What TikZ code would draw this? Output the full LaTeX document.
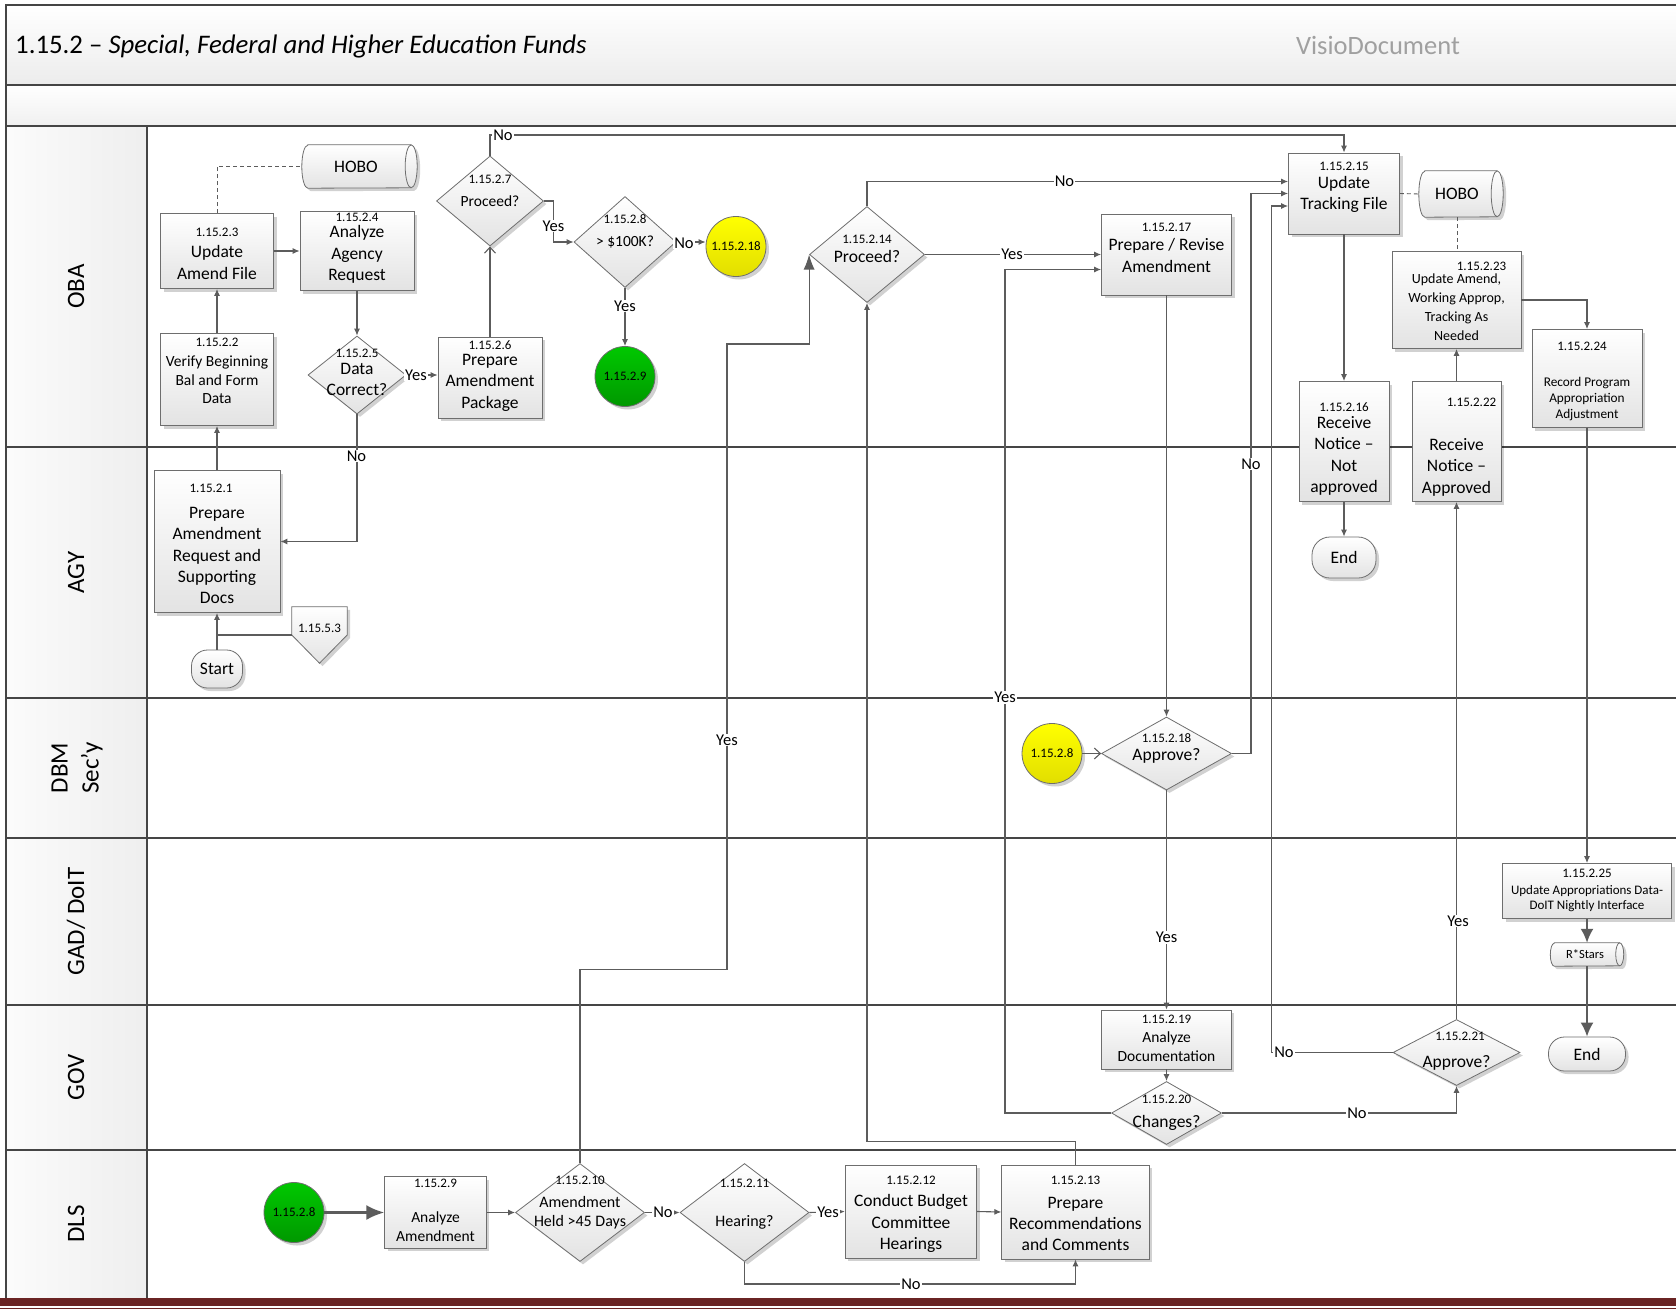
\documentclass[tikz,border=0pt]{standalone}
\usepackage{fontspec}
\setmainfont{Carlito}
\usetikzlibrary{shapes.geometric,shadows,arrows.meta,calc}
\definecolor{lanecol}{HTML}{454545}
\definecolor{edgecol}{HTML}{5C5C5C}
\definecolor{boxline}{HTML}{6E6E6E}
\definecolor{barcol}{HTML}{6A2424}
\definecolor{ytop}{HTML}{FFFF00}
\definecolor{ybot}{HTML}{E2DE00}
\definecolor{gtop}{HTML}{00C800}
\definecolor{gbot}{HTML}{009800}
\definecolor{titlegray}{HTML}{A0A0A0}
\tikzset{
  laneline/.style={draw=lanecol, line width=2pt},
  shp/.style={draw=boxline, line width=0.8pt, top color=white, bottom color=gray!22,
     drop shadow={shadow xshift=3pt, shadow yshift=-3pt, opacity=0.18, fill=black}},
  box/.style={shp, rectangle, inner sep=0pt},
  dia/.style={shp, diamond, inner sep=0pt},
  term/.style={shp, rectangle, inner sep=0pt, font=\fontsize{17.5}{21}\selectfont},
  ycirc/.style={shp, circle, minimum size=60pt, inner sep=0pt, top color=ytop, bottom color=ybot, font=\fontsize{13}{15}\selectfont},
  gcirc/.style={shp, circle, minimum size=60pt, inner sep=0pt, top color=gtop, bottom color=gbot, font=\fontsize{13}{15}\selectfont},
  ghost/.style={rectangle, inner sep=0pt},
  cylline/.style={draw=boxline, line width=0.8pt},
  tx/.style={align=center, inner sep=0pt},
  tmain/.style={tx, font=\fontsize{17.5}{21.4}\selectfont},
  tmid/.style={tx, font=\fontsize{16}{19.3}\selectfont},
  tmed/.style={tx, font=\fontsize{15.5}{18.4}\selectfont},
  tsm/.style={tx, font=\fontsize{13.3}{16}\selectfont},
  tnum/.style={tx, font=\fontsize{13}{15}\selectfont},
  tlane/.style={tx, rotate=90, font=\fontsize{25}{31}\selectfont},
  lbl/.style={fill=white, inner sep=1pt, font=\fontsize{16.5}{18}\selectfont},
  conn/.style={draw=edgecol, line width=1.1pt, -{Latex[length=7pt,width=6pt]}},
  barbconn/.style={draw=edgecol, line width=1.1pt, -{Straight Barb[length=6pt,width=11pt]}},
  bigconn/.style={draw=edgecol, line width=1.1pt, -{Latex[length=15pt,width=11pt]}},
  fatconn/.style={draw=edgecol, line width=2.6pt, -{Latex[length=18pt,width=15pt]}},
  midconn/.style={draw=edgecol, line width=2pt, -{Latex[length=14pt,width=13pt]}},
  plainline/.style={draw=edgecol, line width=1.1pt},
  dashline/.style={draw=edgecol, line width=0.9pt, dash pattern=on 4pt off 3pt},
}
\begin{document}
\begin{tikzpicture}[x=1pt,y=-1pt]
\useasboundingbox (0,0) rectangle (1676,1309);
\fill[white] (0,0) rectangle (1676,1309);
% ---------- pool frame ----------
\shade[top color=white,bottom color=gray!15] (6,5) rectangle (1676,85);
\shade[top color=white,bottom color=gray!12] (6,85) rectangle (1676,126);
\shade[left color=gray!3,right color=gray!13] (6,126) rectangle (147,1298);
\draw[laneline] (1676,5) -- (6,5) -- (6,1298);
\draw[laneline] (6,85) -- (1676,85);
\foreach \yy in {126,447,698,838,1005,1150} {\draw[laneline] (6,\yy) -- (1676,\yy);}
\draw[laneline] (147,126) -- (147,1298);
\fill[barcol] (0,1298) rectangle (1676,1305.5);
\draw[barcol,line width=1pt] (0,1308) -- (1676,1308);

\node[anchor=west, inner sep=0pt, font=\fontsize{26.8}{30}\selectfont] (title) at (15,46) {1.15.2 \textendash{} \textit{Special, Federal and Higher Education Funds}};
\node[inner sep=0pt, text=titlegray, font=\fontsize{26.5}{30}\selectfont] (visio) at (1378,45.5) {VisioDocument};

\node[tlane] (laneOBA) at (76,286.5) {OBA};
\node[tlane] (laneAGY) at (76,572.5) {AGY};
\node[tlane] (laneDBM) at (77,768) {DBM\\Sec’y};
\node[tlane] (laneGAD) at (76,921.5) {GAD/ DoIT};
\node[tlane] (laneGOV) at (76,1077.5) {GOV};
\node[tlane] (laneDLS) at (76,1224) {DLS};

% ---------- shapes ----------
% cylinders
\node[ghost, minimum width=115pt, minimum height=43pt] (hobo1) at (359.5,166.5) {};
\path[shp] ([xshift=6pt]hobo1.north west) -- ([xshift=-6pt]hobo1.north east)
  arc[start angle=90,end angle=-90,x radius=6pt,y radius=21.5pt]
  -- ([xshift=6pt]hobo1.south west)
  arc[start angle=270,end angle=90,x radius=6pt,y radius=21.5pt] -- cycle;
\draw[cylline] ([xshift=-6pt]hobo1.north east) arc[start angle=90,end angle=270,x radius=6pt,y radius=21.5pt];

\node[ghost, minimum width=84pt, minimum height=46pt] (hobo2) at (1461,194) {};
\path[shp] ([xshift=6pt]hobo2.north west) -- ([xshift=-6pt]hobo2.north east)
  arc[start angle=90,end angle=-90,x radius=6pt,y radius=23pt]
  -- ([xshift=6pt]hobo2.south west)
  arc[start angle=270,end angle=90,x radius=6pt,y radius=23pt] -- cycle;
\draw[cylline] ([xshift=-6pt]hobo2.north east) arc[start angle=90,end angle=270,x radius=6pt,y radius=23pt];

\node[ghost, minimum width=73pt, minimum height=23pt] (rstars) at (1587,954.5) {};
\path[shp] ([xshift=4pt]rstars.north west) -- ([xshift=-4pt]rstars.north east)
  arc[start angle=90,end angle=-90,x radius=4pt,y radius=11.5pt]
  -- ([xshift=4pt]rstars.south west)
  arc[start angle=270,end angle=90,x radius=4pt,y radius=11.5pt] -- cycle;
\draw[cylline] ([xshift=-4pt]rstars.north east) arc[start angle=90,end angle=270,x radius=4pt,y radius=11.5pt];

% off-page connector
\node[ghost, minimum width=55pt, minimum height=56pt] (off) at (319.5,635) {};
\path[shp] (off.north west) -- (off.north east) -- (off.east) -- (off.south) -- (off.west) -- cycle;

% boxes
\node[box, minimum width=126pt, minimum height=142pt] (b1) at (217,541.5) {};
\node[box, minimum width=113pt, minimum height=92pt] (b2) at (217,379.5) {};
\node[box, minimum width=113pt, minimum height=75pt] (b3) at (217,251) {};
\node[box, minimum width=114pt, minimum height=79pt] (b4) at (357,251) {};
\node[box, minimum width=104pt, minimum height=81pt] (b6) at (490,377.5) {};
\node[box, minimum width=101.5pt, minimum height=71.5pt] (b9) at (435.5,1212.5) {};
\node[box, minimum width=131.5pt, minimum height=93pt] (b12) at (911,1211.5) {};
\node[box, minimum width=147.5pt, minimum height=94pt] (b13) at (1075.5,1212) {};
\node[box, minimum width=111pt, minimum height=81pt] (b15) at (1344,193.5) {};
\node[box, minimum width=90pt, minimum height=120pt] (b16) at (1344,441.5) {};
\node[box, minimum width=130pt, minimum height=81pt] (b17) at (1166.5,254.5) {};
\node[box, minimum width=129.5pt, minimum height=59pt] (b19) at (1166.5,1039.5) {};
\node[box, minimum width=89pt, minimum height=120pt] (b22) at (1456.5,441.5) {};
\node[box, minimum width=129pt, minimum height=97pt] (b23) at (1456.5,300) {};
\node[box, minimum width=110pt, minimum height=98pt] (b24) at (1587,378.5) {};
\node[box, minimum width=169pt, minimum height=55pt] (b25) at (1587,891) {};

% diamonds
\node[dia, minimum width=98pt, minimum height=78pt] (d5) at (357,375) {};
\node[dia, minimum width=107pt, minimum height=90pt] (d7) at (490,201) {};
\node[dia, minimum width=102pt, minimum height=91pt] (d8) at (625,242) {};
\node[dia, minimum width=129pt, minimum height=98pt] (d10) at (580,1212.5) {};
\node[dia, minimum width=129pt, minimum height=98pt] (d11) at (744.5,1212.5) {};
\node[dia, minimum width=115pt, minimum height=96pt] (d14) at (867,254.5) {};
\node[dia, minimum width=130pt, minimum height=73pt] (d18) at (1166.5,753.5) {};
\node[dia, minimum width=110pt, minimum height=63pt] (d20) at (1166.5,1113) {};
\node[dia, minimum width=127pt, minimum height=66pt] (d21) at (1456.5,1052.5) {};

% circles
\node[ycirc] (y18) at (736,246.5) {1.15.2.18};
\node[gcirc] (g9) at (625,376.5) {1.15.2.9};
\node[ycirc] (y8) at (1052,753.5) {1.15.2.8};
\node[gcirc] (g8) at (294,1212.5) {1.15.2.8};

% terminators
\node[term, minimum width=51pt, minimum height=38pt, rounded corners=16pt] (start) at (217,669) {Start};
\node[term, minimum width=64pt, minimum height=41pt, rounded corners=18pt] (end1) at (1344,557.5) {End};
\node[term, minimum width=77pt, minimum height=34pt, rounded corners=16pt] (end2) at (1587,1054) {End};

% ---------- connectors ----------
\draw[conn] (start.north) -- (b1.south);
\draw[plainline] (off.west) -- (off.west -| start.north);
\draw[conn] (b1.north) -- (b2.south);
\draw[conn] (b2.north) -- (b3.south);
\draw[conn] (b3.east) -- (b4.west);
\draw[dashline] (b3.north) |- (hobo1.west);
\draw[conn] (b4.south) -- (d5.north);
\draw[conn] (d5.east) -- (d5.east -| b6.west);
\draw[conn] (d5.south) |- (b1.east);
\draw[barbconn] (b6.north) -- (d7.south);
\draw[conn] (d7.north) -- (490,135) -| (b15.north);
\draw[conn] (d7.east) -- (553.5,201) |- (d8.west);
\draw[conn] (d8.east) -- (d8.east -| y18.west);
\draw[conn] (d8.south) -- (g9.north);
\draw[bigconn] (d10.north) -- (580,969.5) -- (727,969.5) -- (727,344) -| (d14.west);
\draw[conn] (d14.north) |- ([yshift=12pt]b15.west);
\draw[conn] (d14.east) -- (b17.west);
\draw[conn] (b17.south) -- (d18.north);
\draw[barbconn] (y8.east) -- (d18.west);
\draw[conn] (d18.east) -- (1251,753.5) |- (b15.west);
\draw[conn] (d18.south) -- (b19.north);
\draw[conn] (b19.south) -- (d20.north);
\draw[conn] (d20.west) -- (1005,1113) |- ([yshift=-15pt]b17.west);
\draw[conn] (d20.east) -| (d21.south);
\draw[conn] (d21.west) -- (1271.5,1052.5) |- ([yshift=-12.5pt]b15.west);
\draw[conn] (d21.north) -- (b22.south);
\draw[conn] (b22.north) -- (b23.south);
\draw[conn] (b15.south) -- (b16.north);
\draw[conn] (b16.south) -- (end1.north);
\draw[dashline] (b15.east) -- (hobo2.west);
\draw[dashline] ([xshift=-4pt]hobo2.south) -- ([xshift=-4pt]hobo2.south |- b23.north);
\draw[conn] (b23.east) -| (b24.north);
\draw[conn] (b24.south) -- (b25.north);
\draw[midconn] (b25.south) -- (rstars.north);
\draw[midconn] (rstars.south) -- (end2.north);
\draw[fatconn] (g8.east) -- (b9.west);
\draw[conn] (b9.east) -- (d10.west);
\draw[conn] (d10.east) -- (d11.west);
\draw[conn] (d11.east) -- (b12.west);
\draw[conn] (b12.east) -- (b13.west);
\draw[conn] (d11.south) -- (744.5,1284) -| (b13.south);
\draw[conn] (b13.north) -- (1075.5,1141.5) -| (d14.south);

% ---------- connector labels ----------
\node[lbl] (l1) at (416,375) {Yes};
\node[lbl] (l2) at (356.5,456) {No};
\node[lbl] (l3) at (503,135) {No};
\node[lbl] (l4) at (553.5,226) {Yes};
\node[lbl] (l5) at (684,243) {No};
\node[lbl] (l6) at (625,306) {Yes};
\node[lbl] (l7) at (727,740) {Yes};
\node[lbl] (l8) at (1064.5,181.5) {No};
\node[lbl] (l9) at (1012,254.5) {Yes};
\node[lbl] (l10) at (1251,464) {No};
\node[lbl] (l11) at (1166.5,937.5) {Yes};
\node[lbl] (l12) at (1005,697.5) {Yes};
\node[lbl] (l13) at (1357,1113) {No};
\node[lbl] (l14) at (1284,1052.5) {No};
\node[lbl] (l15) at (1458,921) {Yes};
\node[lbl] (l16) at (663,1212.5) {No};
\node[lbl] (l17) at (828,1212.5) {Yes};
\node[lbl] (l18) at (911,1284) {No};

% ---------- shape texts ----------
\node[tmain] (hobo1t) at (356,166.5) {HOBO};
\node[tmain] (hobo2t) at (1457,194) {HOBO};
\node[tx, font=\fontsize{12.5}{14}\selectfont] (rstarst) at (1585,954.5) {R*Stars};
\node[tnum] (offt) at (319.5,628.5) {1.15.5.3};

\node[tnum] (n1) at (211,488.5) {1.15.2.1};
\node[tmain] (t1) at (217,555.5) {Prepare\\Amendment\\Request and\\Supporting\\Docs};
\node[tnum] (n2) at (217,342) {1.15.2.2};
\node[tmed] (t2) at (217,380) {Verify Beginning\\Bal and Form\\Data};
\node[tnum] (n3) at (217,232) {1.15.2.3};
\node[tmain] (t3) at (217,262.5) {Update\\Amend File};
\node[tnum] (n4) at (357,217.5) {1.15.2.4};
\node[tmain] (t4) at (357,254.5) {Analyze\\Agency\\Request};
\node[tnum] (n5) at (357,353.5) {1.15.2.5};
\node[tmain] (t5) at (357,379.5) {Data\\Correct?};
\node[tnum] (n6) at (490,345) {1.15.2.6};
\node[tmain] (t6) at (490,382.5) {Prepare\\Amendment\\Package};
\node[tnum] (n7) at (490,179) {1.15.2.7};
\node[tmed] (t7) at (490,201.5) {Proceed?};
\node[tnum] (n8) at (625,219.5) {1.15.2.8};
\node[tmed] (t8) at (625,242.5) {> \$100K?};
\node[tnum] (n14) at (867,239) {1.15.2.14};
\node[tmain] (t14) at (867,256) {Proceed?};
\node[tnum] (n17) at (1166.5,227) {1.15.2.17};
\node[tmain] (t17) at (1166.5,255.5) {Prepare / Revise\\Amendment};
\node[tnum] (n15) at (1344,166) {1.15.2.15};
\node[tmain] (t15) at (1344,194.5) {Update\\Tracking File};
\node[tnum] (n23) at (1481.5,266) {1.15.2.23};
\node[tx, font=\fontsize{14}{19}\selectfont] (t23) at (1456.5,307.5) {Update Amend,\\Working Approp,\\Tracking As\\Needed};
\node[tnum] (n24) at (1582,346) {1.15.2.24};
\node[tsm] (t24) at (1587,399.5) {Record Program\\Appropriation\\Adjustment};
\node[tnum] (n16) at (1344,407) {1.15.2.16};
\node[tmain] (t16) at (1344,456) {Receive\\Notice \textendash\\Not\\approved};
\node[tnum] (n22) at (1471.5,402) {1.15.2.22};
\node[tmain] (t22) at (1456.5,467) {Receive\\Notice \textendash\\Approved};
\node[tnum] (n18) at (1166.5,738) {1.15.2.18};
\node[tmain] (t18) at (1166.5,756) {Approve?};
\node[tnum] (n25) at (1587,873.5) {1.15.2.25};
\node[tx, font=\fontsize{13}{15.7}\selectfont] (t25) at (1587,898.5) {Update Appropriations Data-\\DoIT Nightly Interface};
\node[tnum] (n19) at (1166.5,1019.5) {1.15.2.19};
\node[tmed] (t19) at (1166.5,1046.5) {Analyze\\Documentation};
\node[tnum] (n20) at (1166.5,1099) {1.15.2.20};
\node[tmain] (t20) at (1166.5,1123) {Changes?};
\node[tnum] (n21) at (1460,1036) {1.15.2.21};
\node[tmain] (t21) at (1456.5,1062.5) {Approve?};
\node[tnum] (n9) at (435.5,1183) {1.15.2.9};
\node[tmed] (t9) at (435.5,1226.5) {Analyze\\Amendment};
\node[tnum] (n10) at (580,1180.5) {1.15.2.10};
\node[tmid] (t10) at (580,1213) {Amendment\\Held >45 Days};
\node[tnum] (n11) at (744.5,1183) {1.15.2.11};
\node[tmid] (t11) at (744.5,1222) {Hearing?};
\node[tnum] (n12) at (911,1180) {1.15.2.12};
\node[tmain] (t12) at (911,1223.5) {Conduct Budget\\Committee\\Hearings};
\node[tnum] (n13) at (1075.5,1180) {1.15.2.13};
\node[tmain] (t13) at (1075.5,1224) {Prepare\\Recommendations\\and Comments};
\end{tikzpicture}
\end{document}
